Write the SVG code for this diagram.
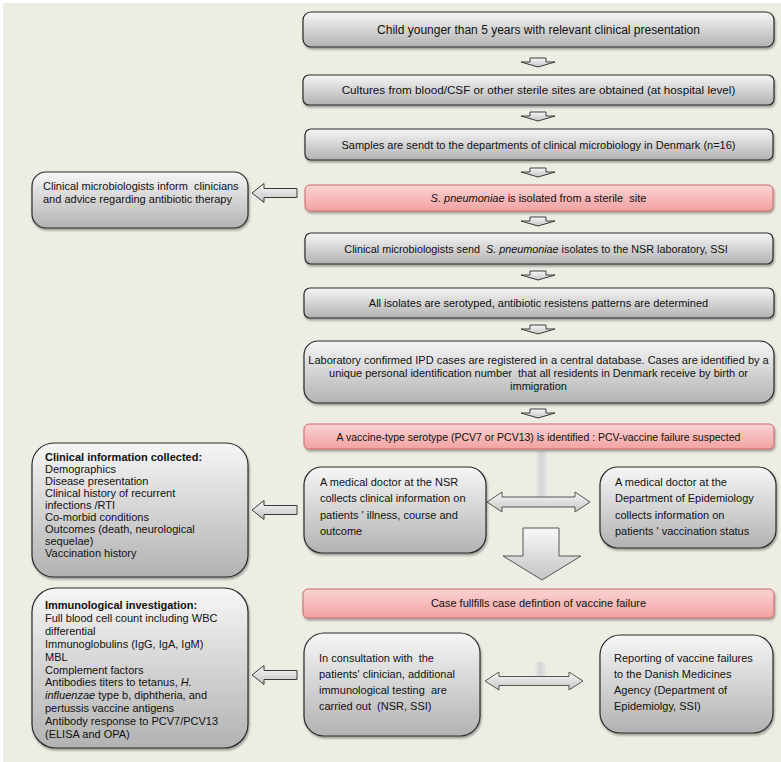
<svg xmlns="http://www.w3.org/2000/svg" width="781" height="762" viewBox="0 0 781 762">
<defs>
<linearGradient id="gGray" x1="0" y1="0" x2="0" y2="1">
<stop offset="0" stop-color="#f6f6f6"/>
<stop offset="1" stop-color="#b2b2b2"/>
</linearGradient>
<linearGradient id="gPink" x1="0" y1="0" x2="0" y2="1">
<stop offset="0" stop-color="#fbd3d3"/>
<stop offset="1" stop-color="#f2a2a2"/>
</linearGradient>
<linearGradient id="gArrow" x1="0" y1="0" x2="0" y2="1">
<stop offset="0" stop-color="#f8f8f8"/>
<stop offset="1" stop-color="#c4c4c4"/>
</linearGradient>
<linearGradient id="gBar" x1="0" y1="0" x2="1" y2="0">
<stop offset="0" stop-color="#e8e8e8"/>
<stop offset="0.5" stop-color="#d4d4d4"/>
<stop offset="1" stop-color="#e8e8e8"/>
</linearGradient>
<filter id="sh" x="-10%" y="-10%" width="120%" height="130%">
<feDropShadow dx="1" dy="2" stdDeviation="1.2" flood-color="#000" flood-opacity="0.35"/>
</filter>
</defs>
<style>
text{font-family:"Liberation Sans",Arial,sans-serif;font-size:11px;fill:#111}
.c{text-anchor:middle}
.b{font-weight:bold}
.i{font-style:italic}
.box{fill:url(#gGray);stroke:#2a2a2a;stroke-width:1.2;filter:url(#sh)}
.pink{fill:url(#gPink);stroke:#c96a6a;stroke-width:1;filter:url(#sh)}
.arr{fill:url(#gArrow);stroke:#3a3a3a;stroke-width:1}
.big{fill:url(#gArrow);stroke:#555;stroke-width:1}
</style>
<rect x="3" y="3" width="778" height="759" fill="#eeede4"/>

<g id="connectors">
<path class="arr" d="M530,58 h16 v4 h9 l-17,5 l-17,-5 h9 z"/>
<path class="arr" d="M530,112 h16 v4 h9 l-17,5 l-17,-5 h9 z"/>
<path class="arr" d="M530,168 h16 v4 h9 l-17,5 l-17,-5 h9 z"/>
<path class="arr" d="M530,217 h16 v4 h9 l-17,5 l-17,-5 h9 z"/>
<path class="arr" d="M530,271 h16 v4 h9 l-17,5 l-17,-5 h9 z"/>
<path class="arr" d="M530,325 h16 v4 h9 l-17,5 l-17,-5 h9 z"/>
<path class="arr" d="M530,409 h16 v4 h9 l-17,5 l-17,-5 h9 z"/>
<path class="arr" d="M252,193 l12,-9.5 v5 h33 v9 h-33 v5 z"/>
<path class="arr" d="M252,510 l12,-9.5 v5 h33 v9 h-33 v5 z"/>
<path class="arr" d="M252,675 l12,-9.5 v5 h33 v9 h-33 v5 z"/>
<rect x="536" y="451" width="11" height="48" fill="url(#gBar)"/>
<path class="big" d="M487,502 l15,-10 v5 h73 v-5 l15,10 l-15,10 v-5 h-73 v5 z"/>
<path class="big" d="M523,528 h36 v28 h22 l-39,24 l-39,-24 h20 z"/>
<rect x="535" y="662" width="11" height="18" fill="url(#gBar)"/>
<path class="big" d="M485,681 l14,-9 v4.5 h70 v-4.5 l14,9 l-14,9 v-4.5 h-70 v4.5 z"/>
</g>

<g id="n1"><rect class="box" x="303" y="12" width="471" height="35" rx="8"/>
<text class="c" x="538.5" y="34" style="font-size:12px">Child younger than 5 years with relevant clinical presentation</text></g>
<g id="n2"><rect class="box" x="303" y="75" width="471" height="30" rx="6"/>
<text class="c" x="538.5" y="94" style="font-size:11.7px">Cultures from blood/CSF or other sterile sites are obtained (at hospital level)</text></g>
<g id="n3"><rect class="box" x="305" y="129" width="468" height="31" rx="6"/>
<text class="c" x="538.5" y="148.5">Samples are sendt to the departments of clinical microbiology in Denmark (n=16)</text></g>
<g id="n4"><rect class="pink" x="305" y="185" width="468" height="26" rx="5"/>
<text class="c" x="538.5" y="202" xml:space="preserve"><tspan class="i">S. pneumoniae</tspan> is isolated from a sterile  site</text></g>
<g id="n5"><rect class="box" x="305" y="233" width="468" height="31" rx="6"/>
<text class="c" x="536" y="252.5" xml:space="preserve" style="font-size:10.8px">Clinical microbiologists send  <tspan class="i">S. pneumoniae</tspan> isolates to the NSR laboratory, SSI</text></g>
<g id="n6"><rect class="box" x="304" y="288" width="470" height="30" rx="6"/>
<text class="c" x="538.5" y="307">All isolates are serotyped, antibiotic resistens patterns are determined</text></g>
<g id="n7"><rect class="box" x="304" y="341" width="470" height="62" rx="14"/>
<text class="c" x="538.5" y="364">Laboratory confirmed IPD cases are registered in a central database. Cases are identified by a</text>
<text class="c" x="538.5" y="377" xml:space="preserve">unique personal identification number  that all residents in Denmark receive by birth or</text>
<text class="c" x="538.5" y="390">immigration</text></g>
<g id="n8"><rect class="pink" x="304" y="424" width="470" height="25" rx="5"/>
<text class="c" x="538.5" y="440.5" style="font-size:10.5px">A vaccine-type serotype (PCV7 or PCV13) is identified : PCV-vaccine failure suspected</text></g>

<g id="n9"><rect class="box" x="32" y="172" width="216" height="56" rx="14"/>
<text x="43" y="190" xml:space="preserve">Clinical microbiologists inform  clinicians</text>
<text x="43" y="202.5">and advice regarding antibiotic therapy</text></g>

<g id="n10"><rect class="box" x="32" y="443" width="216" height="134" rx="22"/>
<text x="45" y="461" class="b">Clinical information collected:</text>
<text x="45" y="473">Demographics</text>
<text x="45" y="485">Disease presentation</text>
<text x="45" y="497">Clinical history of recurrent</text>
<text x="45" y="509">infections /RTI</text>
<text x="45" y="521">Co-morbid conditions</text>
<text x="45" y="533">Outcomes (death, neurological</text>
<text x="45" y="545">sequelae)</text>
<text x="45" y="557">Vaccination history</text></g>

<g id="n11"><rect class="box" x="304" y="467" width="182" height="86" rx="18"/>
<text x="320" y="486">A medical doctor at the NSR</text>
<text x="320" y="502">collects clinical information on</text>
<text x="320" y="518.5">patients ' illness, course and</text>
<text x="320" y="535">outcome</text></g>

<g id="n12"><rect class="box" x="600" y="467" width="176" height="81" rx="18"/>
<text x="615" y="486">A medical doctor at the</text>
<text x="615" y="502">Department of Epidemiology</text>
<text x="615" y="518.5">collects information on</text>
<text x="615" y="535">patients ' vaccination status</text></g>

<g id="n13"><rect class="pink" x="303" y="589" width="471" height="29" rx="5"/>
<text class="c" x="538.5" y="607">Case fullfills case defintion of vaccine failure</text></g>

<g id="n14"><rect class="box" x="32" y="588" width="216" height="160" rx="24"/>
<text x="45" y="609" class="b">Immunological investigation:</text>
<text x="45" y="621.9">Full blood cell count including WBC</text>
<text x="45" y="634.8">differential</text>
<text x="45" y="647.7">Immunoglobulins (IgG, IgA, IgM)</text>
<text x="45" y="660.6">MBL</text>
<text x="45" y="673.5">Complement factors</text>
<text x="45" y="686.4">Antibodies titers to tetanus, <tspan class="i">H.</tspan></text>
<text x="45" y="699.3"><tspan class="i">influenzae</tspan> type b, diphtheria, and</text>
<text x="45" y="712.2">pertussis vaccine antigens</text>
<text x="45" y="725.1">Antibody response to PCV7/PCV13</text>
<text x="45" y="738">(ELISA and OPA)</text></g>

<g id="n15"><rect class="box" x="304" y="633" width="176" height="103" rx="20"/>
<text x="319" y="662" xml:space="preserve">In consultation with  the</text>
<text x="319" y="678" xml:space="preserve">patients' clinician, additional</text>
<text x="319" y="694" xml:space="preserve">immunological testing  are</text>
<text x="319" y="710" xml:space="preserve">carried out  (NSR, SSI)</text></g>

<g id="n16"><rect class="box" x="600" y="635" width="173" height="98" rx="20"/>
<text x="614" y="662">Reporting of vaccine failures</text>
<text x="614" y="678">to the Danish Medicines</text>
<text x="614" y="694">Agency (Department of</text>
<text x="614" y="710">Epidemiolgy, SSI)</text></g>
</svg>
